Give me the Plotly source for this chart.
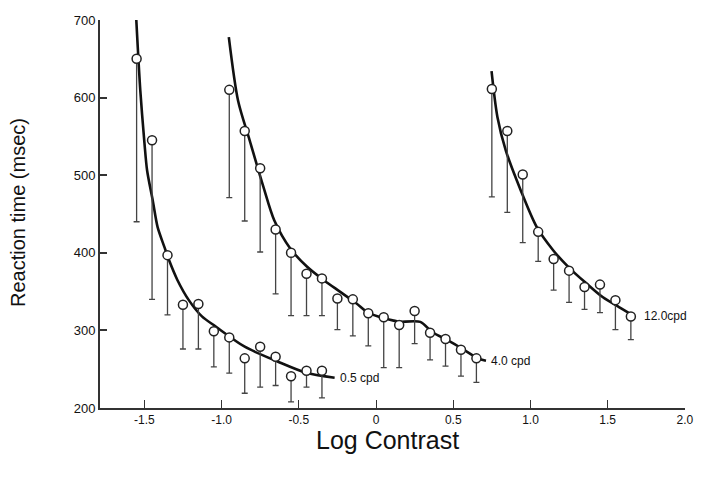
import plotly.graph_objects as go

# ---- data ----
x_05 = [-1.55, -1.45, -1.35, -1.25, -1.15, -1.05, -0.95, -0.85, -0.75, -0.65, -0.55, -0.45, -0.35]
rt_05 = [650, 545, 397, 333, 334, 299, 291, 264, 279, 266, 241, 248, 248]
low_05 = [440, 340, 320, 276, 276, 253, 245, 219, 227, 229, 208, 227, 213]

x_40 = [-0.95, -0.85, -0.75, -0.65, -0.55, -0.45, -0.35, -0.25, -0.15, -0.05,
        0.05, 0.15, 0.25, 0.35, 0.45, 0.55, 0.65]
rt_40 = [610, 557, 509, 430, 400, 373, 367, 341, 340, 322, 317, 307, 325, 297, 289, 275, 264]
low_40 = [471, 441, 401, 347, 319, 319, 319, 301, 293, 280, 252, 252, 283, 262, 254, 241, 233]

x_120 = [0.75, 0.85, 0.95, 1.05, 1.15, 1.25, 1.35, 1.45, 1.55, 1.65]
rt_120 = [611, 557, 501, 427, 392, 377, 356, 359, 339, 318]
low_120 = [472, 452, 413, 389, 352, 336, 327, 323, 301, 288]

# fitted curves (read as points along the drawn line)
cx_05 = [-1.552, -1.526, -1.499, -1.482, -1.446, -1.414, -1.371, -1.339, -1.286, -1.212,
         -1.127, -1.038, -0.85, -0.638, -0.446, -0.268]
cy_05 = [700, 609, 541, 506, 468, 433, 408, 390, 365, 339, 318, 305, 279, 260, 245, 239]

cx_40 = [-0.953, -0.893, -0.818, -0.729, -0.659, -0.553, -0.446, -0.34, -0.234, -0.128,
         -0.053, 0.064, 0.128, 0.149, 0.287, 0.362, 0.457, 0.553, 0.659, 0.712]
cy_40 = [678, 596, 545, 485, 442, 405, 382, 365, 350, 335, 323, 315, 312, 311, 311, 298,
         288, 277, 264, 261]

cx_120 = [0.748, 0.786, 0.84, 0.936, 1.041, 1.148, 1.254, 1.36, 1.467, 1.573, 1.658]
cy_120 = [634, 575, 532, 481, 433, 403, 380, 361, 343, 330, 320]

labels = ["0.5 cpd", "4.0 cpd", "12.0cpd"]
label_x = [-0.245, 0.733, 1.722]
label_y = [239, 261, 319]

x_ticks = [-1.5, -1.0, -0.5, 0, 0.5, 1.0, 1.5, 2.0]
x_ticktext = ["-1.5", "-1.0", "-0.5", "0", "0.5", "1.0", "1.5", "2.0"]
y_ticks = [200, 300, 400, 500, 600, 700]

fig = go.Figure()

for cx, cy in [(cx_05, cy_05), (cx_40, cy_40), (cx_120, cy_120)]:
    fig.add_trace(go.Scatter(x=cx, y=cy, mode="lines",
                             line=dict(color="#111111", width=2.6, shape="spline", smoothing=0.8),
                             showlegend=False, hoverinfo="skip", cliponaxis=True))

for xs, ys, lows in [(x_05, rt_05, low_05), (x_40, rt_40, low_40), (x_120, rt_120, low_120)]:
    minus = [y - l for y, l in zip(ys, lows)]
    fig.add_trace(go.Scatter(
        x=xs, y=ys, mode="markers",
        marker=dict(symbol="circle", size=9, color="white",
                    line=dict(color="#222222", width=1.5)),
        error_y=dict(type="data", symmetric=False, array=[0] * len(ys), arrayminus=minus,
                     color="#444444", thickness=1.3, width=3),
        showlegend=False, cliponaxis=False))

for t, lx, ly in zip(labels, label_x, label_y):
    fig.add_annotation(x=lx, y=ly, text=t, showarrow=False, xanchor="left", yanchor="middle",
                       font=dict(family="Liberation Sans", size=12, color="#111111"))

fig.add_annotation(xref="paper", yref="paper", x=0.4916, y=0, yshift=-32, text="Log Contrast",
                   showarrow=False, xanchor="center", yanchor="middle",
                   font=dict(family="Liberation Sans", size=25, color="#111111"))
fig.add_annotation(xref="paper", yref="paper", x=0, xshift=-82, y=0.5026,
                   text="Reaction time (msec)", textangle=-90, showarrow=False,
                   xanchor="center", yanchor="middle",
                   font=dict(family="Liberation Sans", size=20, color="#111111"))

fig.update_xaxes(range=[-1.787, 2.0005], tickvals=x_ticks, ticktext=x_ticktext,
                 showgrid=False, zeroline=False, showline=True, linecolor="#333333", linewidth=1.5,
                 ticks="inside", ticklen=8, tickwidth=1.2, tickcolor="#333333",
                 tickfont=dict(family="Liberation Sans", size=12, color="#111111"))
fig.update_yaxes(range=[200, 700], tickvals=y_ticks,
                 showgrid=False, zeroline=False, showline=True, linecolor="#333333", linewidth=2,
                 ticks="inside", ticklen=7, tickwidth=1.5, tickcolor="#333333",
                 tickfont=dict(family="Liberation Sans", size=13, color="#111111"))

fig.update_layout(width=704, height=482, margin=dict(l=100, r=10, t=20, b=74),
                  plot_bgcolor="white", paper_bgcolor="white")

fig.write_html("out.html")
